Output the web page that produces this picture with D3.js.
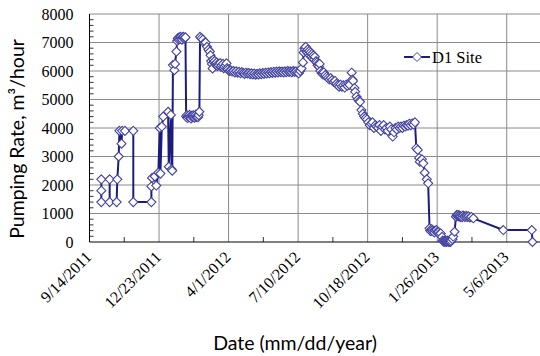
<!DOCTYPE html>
<html>
<head>
<meta charset="utf-8">
<script src="https://cdn.jsdelivr.net/npm/d3@7"></script>
<style>
  body { margin: 0; background: #fff; }
</style>
</head>
<body>
<div id="chart"></div>
<script>
// pumping rate readings, D1 site
const dates = [
  // Oct 2011 - Jan 2012
  "2011-10-01","2011-10-01","2011-10-01","2011-10-13","2011-10-13","2011-10-23","2011-10-24","2011-10-26",
  "2011-10-27","2011-10-30","2011-10-31","2011-11-04","2011-11-16","2011-11-16","2011-12-12","2011-12-12",
  "2011-12-13","2011-12-17","2011-12-19","2011-12-22","2011-12-24","2011-12-25","2011-12-27","2011-12-29",
  "2012-01-05","2012-01-06","2012-01-09","2012-01-10","2012-01-11","2012-01-12","2012-01-14","2012-01-15",
  "2012-01-17","2012-01-18","2012-01-19","2012-01-20","2012-01-21","2012-01-22","2012-01-23","2012-01-24",
  "2012-01-25","2012-01-26","2012-01-27","2012-01-28","2012-01-29","2012-01-30","2012-01-31",
  // Feb - Mar 2012
  "2012-02-01","2012-02-02","2012-02-03","2012-02-04","2012-02-05","2012-02-06","2012-02-07","2012-02-08",
  "2012-02-09","2012-02-10","2012-02-11","2012-02-12","2012-02-13","2012-02-14","2012-02-15","2012-02-16",
  "2012-02-17","2012-02-18","2012-02-19","2012-02-20","2012-02-22","2012-02-24","2012-02-26","2012-02-28",
  "2012-03-01","2012-03-03","2012-03-05","2012-03-06","2012-03-07","2012-03-08","2012-03-09","2012-03-10",
  "2012-03-11","2012-03-12","2012-03-13","2012-03-14","2012-03-15","2012-03-16","2012-03-17","2012-03-18",
  "2012-03-20","2012-03-21","2012-03-22","2012-03-24","2012-03-25","2012-03-26","2012-03-28","2012-03-29",
  "2012-03-30","2012-03-31","2012-04-02",
  // Apr - Jul 2012
  "2012-04-04","2012-04-06","2012-04-08","2012-04-10","2012-04-12","2012-04-14","2012-04-16","2012-04-18",
  "2012-04-20","2012-04-22","2012-04-24","2012-04-26","2012-04-28","2012-04-30",
  "2012-05-02","2012-05-04","2012-05-06","2012-05-08","2012-05-10","2012-05-12","2012-05-14","2012-05-16",
  "2012-05-18","2012-05-20","2012-05-22","2012-05-24","2012-05-26","2012-05-28","2012-05-30",
  "2012-06-01","2012-06-03","2012-06-05","2012-06-07","2012-06-09","2012-06-11","2012-06-13","2012-06-15",
  "2012-06-17","2012-06-19","2012-06-21","2012-06-23","2012-06-25","2012-06-27","2012-06-29",
  "2012-07-01","2012-07-03","2012-07-05","2012-07-07","2012-07-09","2012-07-11","2012-07-13","2012-07-15",
  "2012-07-17","2012-07-18","2012-07-19","2012-07-20","2012-07-21","2012-07-22","2012-07-23","2012-07-24",
  "2012-07-25","2012-07-26","2012-07-27","2012-07-28","2012-07-29","2012-07-30","2012-07-31",
  // Aug - Dec 2012
  "2012-08-01","2012-08-02","2012-08-03","2012-08-05","2012-08-06","2012-08-07","2012-08-08","2012-08-09",
  "2012-08-10","2012-08-11","2012-08-13","2012-08-14","2012-08-15","2012-08-16","2012-08-18","2012-08-20",
  "2012-08-22","2012-08-24","2012-08-26","2012-08-28","2012-08-30",
  "2012-09-01","2012-09-03","2012-09-05","2012-09-07","2012-09-09","2012-09-11","2012-09-13","2012-09-15",
  "2012-09-17","2012-09-19","2012-09-21","2012-09-22","2012-09-25","2012-09-26","2012-09-27","2012-09-29",
  "2012-09-30",
  "2012-10-02","2012-10-04","2012-10-06","2012-10-07","2012-10-09","2012-10-11","2012-10-13","2012-10-15",
  "2012-10-17","2012-10-19","2012-10-21","2012-10-23","2012-10-25","2012-10-27","2012-10-29","2012-10-31",
  "2012-11-02","2012-11-04","2012-11-06","2012-11-08","2012-11-10","2012-11-12","2012-11-14","2012-11-16",
  "2012-11-19","2012-11-21","2012-11-23","2012-11-25","2012-11-27","2012-11-29",
  "2012-12-01","2012-12-03","2012-12-05","2012-12-07","2012-12-09","2012-12-11","2012-12-13","2012-12-15",
  "2012-12-17","2012-12-19","2012-12-21","2012-12-23","2012-12-25","2012-12-27","2012-12-29","2012-12-31",
  // 2013
  "2013-01-01","2013-01-04","2013-01-06","2013-01-08","2013-01-11","2013-01-13","2013-01-15","2013-01-16",
  "2013-01-17","2013-01-18","2013-01-19","2013-01-20","2013-01-22","2013-01-23","2013-01-25","2013-01-26",
  "2013-01-28","2013-01-29","2013-01-31","2013-02-02","2013-02-03","2013-02-04","2013-02-05","2013-02-06",
  "2013-02-07","2013-02-08","2013-02-09","2013-02-10","2013-02-11","2013-02-12","2013-02-13","2013-02-14",
  "2013-02-15","2013-02-17","2013-02-18","2013-02-20","2013-02-22","2013-02-23","2013-02-24","2013-02-25",
  "2013-02-26","2013-02-27","2013-02-28","2013-03-01","2013-03-03","2013-03-04","2013-03-06","2013-03-07",
  "2013-03-09","2013-03-10","2013-03-12","2013-03-14","2013-03-16","2013-03-19","2013-05-01","2013-06-11",
  "2013-06-12"
];
const rates = [
  // Oct 2011 - Jan 2012
  1400,1800,2200,2200,1400,1400,2200,3000,
  3900,3450,3900,3900,3900,1400,1400,1950,
  2250,2300,1980,2430,4000,2400,4050,4400,
  4570,2640,4460,2550,2500,6210,6030,6250,
  6680,7050,7150,7100,7180,7120,7200,7150,
  7100,7180,7200,7130,7170,7180,4400,
  // Feb - Mar 2012
  4450,4350,4420,4380,4460,4400,4330,4430,
  4380,4450,4400,4360,4420,4470,4390,4430,
  4380,4450,4570,7200,7150,7100,6980,7000,
  6850,6750,6680,6550,6350,6250,6090,6400,
  6300,6350,6250,6200,6300,6180,6250,6200,
  6280,6150,6200,6250,6100,6150,6200,6270,
  6100,6050,6000,
  // Apr - Jul 2012
  6020,5980,6000,5950,5990,5940,5970,5920,
  5960,5930,5900,5940,5910,5930,
  5890,5920,5880,5910,5870,5900,5880,5920,
  5890,5930,5900,5940,5910,5950,5920,
  5960,5930,5970,5940,5980,5950,5990,5960,
  5980,5950,5990,5960,6000,5970,5990,
  5960,6000,5970,5990,5950,5920,6000,6090,
  6300,6650,6800,6750,6850,6700,6650,6750,
  6600,6700,6550,6650,6500,6600,6450,
  // Aug - Dec 2012
  6550,6400,6500,6350,6300,6200,6250,6150,
  6250,6000,5920,5950,5880,5950,5860,5800,
  5750,5700,5750,5680,5620,
  5650,5550,5500,5450,5520,5450,5500,5420,
  5520,5480,5550,5510,5940,5700,5650,5400,
  5270,
  5100,5000,4950,4920,4630,4500,4400,4350,
  4300,4200,4100,4150,4200,4000,4100,4050,
  4000,4100,3900,4050,4100,3950,4000,3900,
  4050,3950,3700,3850,4000,3950,
  4050,4000,4050,4000,4080,4050,4100,4080,
  4150,4100,4160,4120,4200,3290,3230,2950,
  // 2013
  2820,2900,2760,2430,2200,2060,480,400,
  380,450,420,380,330,400,420,350,
  350,280,300,180,50,20,0,40,
  30,0,10,50,20,0,30,0,
  40,100,190,360,890,950,920,950,
  900,930,880,900,870,930,900,880,
  920,880,900,860,880,830,420,420,
  0
];
const seriesName = "D1 Site";
const xTickLabels = ["9/14/2011","12/23/2011","4/1/2012","7/10/2012","10/18/2012","1/26/2013","5/6/2013"];
const yTicks = [0,1000,2000,3000,4000,5000,6000,7000,8000];

const W = 540, H = 356;
const margin = {left: 89.5, top: 14};
const plotW = 452, plotH = 228;
const lineColor = "#1c1c7e", markColor = "#4343a0", gridColor = "#8a8a8a";
const serif = "'Liberation Serif','Times New Roman',serif";
const sans = "Lato,'Open Sans',sans-serif";

const parse = d3.timeParse("%Y-%m-%d");
const parseTick = d3.timeParse("%m/%d/%Y");
const data = dates.map((d, i) => ({date: parse(d), rate: rates[i]}));
const xTicks = xTickLabels.map(parseTick);

const x = d3.scaleTime()
  .domain([xTicks[0], d3.timeDay.offset(xTicks[xTicks.length - 1], 50)])
  .range([0, plotW]);
const y = d3.scaleLinear().domain([0, 8000]).range([plotH, 0]);

const svg = d3.select("#chart").append("svg")
  .attr("width", W).attr("height", H)
  .style("font-family", serif);

const g = svg.append("g").attr("transform", `translate(${margin.left},${margin.top})`);

// grid
g.append("g").selectAll("line").data(yTicks.slice(1)).join("line")
  .attr("x1", 0).attr("x2", plotW)
  .attr("y1", d => y(d)).attr("y2", d => y(d))
  .attr("stroke", gridColor).attr("stroke-width", 1);
g.append("g").selectAll("line").data(xTicks.slice(1)).join("line")
  .attr("x1", d => x(d)).attr("x2", d => x(d))
  .attr("y1", 0).attr("y2", plotH)
  .attr("stroke", gridColor).attr("stroke-width", 1);

// minor ticks, pointing inward
const yMinor = d3.range(200, 8000, 200).filter(v => v % 1000 !== 0);
g.append("g").selectAll("line").data(yMinor).join("line")
  .attr("x1", 0).attr("x2", 4)
  .attr("y1", d => y(d)).attr("y2", d => y(d))
  .attr("stroke", "#333");
const xMinor = xTicks.map(d => d3.timeDay.offset(d, 50));
g.append("g").selectAll("line").data(xMinor).join("line")
  .attr("x1", d => x(d)).attr("x2", d => x(d))
  .attr("y1", plotH).attr("y2", plotH - 5)
  .attr("stroke", "#333");

// axis lines
g.append("line").attr("x1", 0).attr("x2", 0).attr("y1", 0).attr("y2", plotH).attr("stroke", "#000");
g.append("line").attr("x1", 0).attr("x2", plotW).attr("y1", plotH).attr("y2", plotH).attr("stroke", "#000");

// tick labels
g.append("g").selectAll("text").data(yTicks).join("text")
  .attr("x", -16).attr("y", d => y(d)).attr("dy", "0.35em")
  .attr("text-anchor", "end")
  .attr("font-size", 16)
  .text(d => d);
g.append("g").selectAll("text").data(xTicks).join("text")
  .attr("transform", d => `translate(${x(d) + 3},${plotH + 16}) rotate(-45)`)
  .attr("text-anchor", "end")
  .attr("font-size", 16)
  .text((d, i) => xTickLabels[i]);

// series
const line = d3.line().x(d => x(d.date)).y(d => y(d.rate));
g.append("path").datum(data)
  .attr("fill", "none").attr("stroke", lineColor).attr("stroke-width", 2)
  .attr("stroke-linejoin", "round")
  .attr("d", line);

const diamond = "M0,-4.5L4.5,0L0,4.5L-4.5,0Z";
g.append("g").selectAll("path").data(data).join("path")
  .attr("transform", d => `translate(${x(d.date)},${y(d.rate)})`)
  .attr("d", diamond)
  .attr("fill", "#fff").attr("stroke", markColor).attr("stroke-width", 1.1);

// legend
const lg = svg.append("g").attr("transform", "translate(404,57)");
lg.append("line").attr("x1", 0).attr("x2", 26).attr("stroke", lineColor).attr("stroke-width", 2);
lg.append("path").attr("transform", "translate(13,0)").attr("d", diamond)
  .attr("fill", "#fff").attr("stroke", markColor);
lg.append("text").attr("x", 28).attr("y", 5.5).attr("font-size", 16.5).text(seriesName);

// axis titles
svg.append("text")
  .attr("x", 295).attr("y", 350)
  .attr("text-anchor", "middle")
  .attr("font-family", sans).attr("font-size", 19.5)
  .text("Date (mm/dd/year)");
svg.append("text")
  .attr("transform", "translate(24,139) rotate(-90)")
  .attr("text-anchor", "middle")
  .attr("font-family", sans).attr("font-size", 19.5)
  .text("Pumping Rate, m³/hour");
</script>
</body>
</html>
